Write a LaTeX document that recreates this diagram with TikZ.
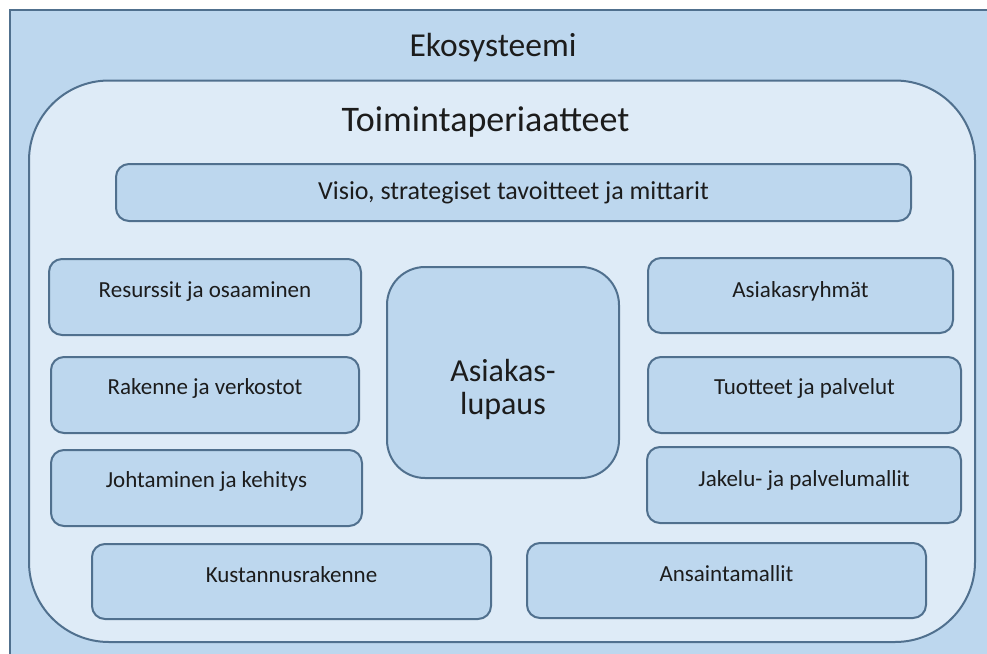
\documentclass[tikz,border=0pt]{standalone}
\usepackage{fontspec}
\setmainfont{Carlito}
\definecolor{outerfill}{HTML}{BDD7EE}
\definecolor{innerfill}{HTML}{DEEBF7}
\definecolor{boxfill}{HTML}{BDD7EE}
\definecolor{edgecol}{HTML}{50708E}
\definecolor{txt}{HTML}{1C1C1C}
\tikzset{
  boxstyle/.style={draw=edgecol, line width=2pt, fill=boxfill, rounded corners=13pt,
    inner sep=0pt, text=txt, font=\fontsize{23}{27}\selectfont,
    text height=14.5pt, text depth=0pt},
  titlestyle/.style={inner sep=0pt, text=txt, text depth=0pt}
}
\begin{document}
\begin{tikzpicture}[x=1pt,y=-1pt]
\useasboundingbox (0,0) rectangle (987,653);
\clip (0,0) rectangle (987,653);
\fill[white] (0,0) rectangle (987,653);
% outer ecosystem frame
\draw[draw=edgecol, line width=2pt, fill=outerfill] (9.5,9.5) rectangle (1010,680);
\node[titlestyle, font=\fontsize{33.5}{40}\selectfont, text height=21pt] (eko) at (493,45.5) {Ekosysteemi};
% inner rounded frame
\draw[draw=edgecol, line width=2pt, fill=innerfill, rounded corners=80pt] (29,80.5) rectangle (975,642);
\node[titlestyle, font=\fontsize{36}{43}\selectfont, text height=22.7pt] (toim) at (485.5,120.5) {Toimintaperiaatteet};
% boxes
\node[boxstyle, minimum width=795pt, minimum height=57pt, font=\fontsize{26}{31}\selectfont, text height=16.4pt] (visio) at (513.5,192.5) {\raisebox{1pt}{Visio, strategiset tavoitteet ja mittarit}};
\node[boxstyle, minimum width=312pt, minimum height=76pt] (res) at (205,297) {\raisebox{6.5pt}{Resurssit ja osaaminen}};
\node[boxstyle, minimum width=308pt, minimum height=76pt] (rak) at (205,395) {\raisebox{7.5pt}{Rakenne ja verkostot}};
\node[boxstyle, minimum width=311pt, minimum height=76pt] (joh) at (206.5,488) {\raisebox{7.5pt}{Johtaminen ja kehitys}};
\node[boxstyle, minimum width=305pt, minimum height=75pt] (ryh) at (800.5,295.5) {\raisebox{5.5pt}{Asiakasryhmät}};
\node[boxstyle, minimum width=313pt, minimum height=76pt] (tuo) at (804.5,395) {\raisebox{7.5pt}{Tuotteet ja palvelut}};
\node[boxstyle, minimum width=314pt, minimum height=76pt] (jak) at (804,485) {\raisebox{6pt}{Jakelu- ja palvelumallit}};
\node[boxstyle, minimum width=399pt, minimum height=75pt] (kus) at (291.5,581.5) {\raisebox{6.5pt}{Kustannusrakenne}};
\node[boxstyle, minimum width=399pt, minimum height=75pt] (ans) at (726.5,580.5) {\raisebox{6.5pt}{Ansaintamallit}};
% central promise
\node[boxstyle, rounded corners=38pt, minimum width=232pt, minimum height=211pt] (lup) at (503,372.5) {};
\node[titlestyle, font=\fontsize{32}{33}\selectfont, align=center, text depth=0pt] (luptext) at (lup.center) [yshift=-14pt] {Asiakas-\\lupaus};
\end{tikzpicture}
\end{document}
